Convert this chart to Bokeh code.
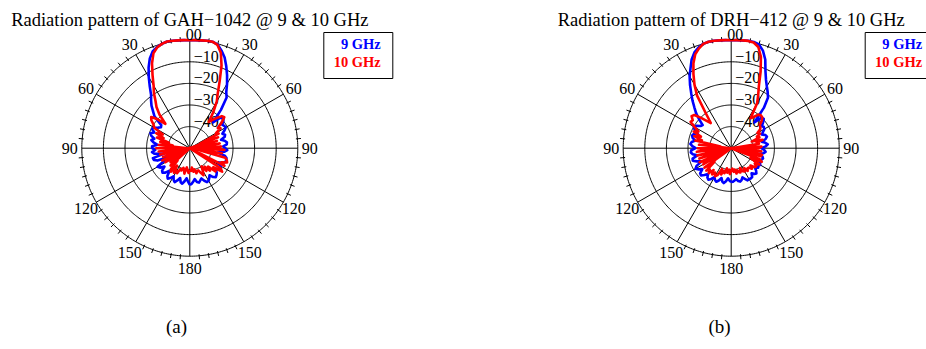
import numpy as np
from bokeh.plotting import figure
from bokeh.layouts import row
from bokeh.models import Range1d, Label
from bokeh.embed import file_html
from bokeh.resources import INLINE

# Measured radiation patterns (dB, normalised) every 3 degrees, 0 = boresight
angles = list(range(-180, 181, 3))

gah_9ghz = [
    -33, -34.5, -36, -34.5, -33.2, -33.7, -35.5, -34, -32.8, -33.5, -35, -33.5, -32.6, -33.5, -36,
    -34, -33, -33.5, -35.5, -33.5, -32.8, -36, -42, -34, -32.5, -32.3, -38, -33.5, -32.4, -34,
    -32.6, -32.5, -35, -33, -31.8, -33, -31.2, -30.5, -32, -30.4, -31, -32.5, -33.5,
    -33, -28, -26, -23.5, -21.5, -19.5, -16, -12, -8, -4.5, -2, -0.8, 0, 0.5, 0.4, 0.2, 0.1,
    0,
    0.1, 0.2, 0.4, 0.4, -0.3, -2.5, -5, -8.5, -12, -15.5, -19, -21, -27, -34,
    -30, -29, -30, -31.5, -31, -30.8, -32, -33.5, -32.5, -33, -35, -33.5, -32.6, -32.8, -34.5,
    -33.5, -32.6, -34, -37, -33.5, -32.4, -32.3, -32.3, -33.5, -35.5, -33.5, -32.8, -33.5, -35,
    -33.2, -32.5, -32, -32.8, -34.5, -33.5, -32.6, -32.4, -33.5, -35, -34.3, -33.5, -34, -35.5,
    -34.5, -33.5, -33,
]

gah_10ghz = [
    -40, -38.5, -40, -41, -38, -39.5, -40.5, -39, -39.5, -37, -38, -36.5, -40, -36, -37, -42, -38,
    -50, -39, -55, -37, -50, -36, -55, -37, -52, -36, -50, -35.5, -55, -34.5, -48, -35.5, -42, -36,
    -40, -34, -37, -33, -36, -31, -30, -28, -27, -30, -34, -29, -25.5, -23, -19.5, -16.5, -12, -7,
    -3, -1, 0, 0.5, 0.4, 0.2, 0.1,
    0,
    0.1, 0.2, 0.4, 0.4, -0.5, -3.5, -9, -16, -21.5, -25, -30, -35, -33, -31, -29, -28.5, -31, -34,
    -33, -36, -35, -45, -36, -50, -37, -55, -36, -48, -35.5, -38, -34, -50, -35, -45, -33, -32,
    -31.5, -34, -32, -50, -33, -31.5, -36, -34, -38, -36, -39, -37, -40, -38, -36, -37.5, -39, -39,
    -38, -40, -39, -41, -39.5, -40,
]

drh_9ghz = [
    -34.3, -35, -36, -34.5, -33.5, -34, -35.5, -34, -33, -33.5, -34.5, -33, -32, -32.5, -34, -32.5,
    -31.2, -31.5, -33.5, -32, -30.9, -32, -35, -33, -31.3, -31.5, -34, -32, -31.2, -31.5, -33.5,
    -32, -31, -31.5, -33, -31.5, -31, -31.5, -33, -31, -30, -31, -32.5,
    -33, -30, -27, -24.5, -21.5, -18.5, -15, -11.5, -8.5, -5, -2.5, -1, 0, 0.4, 0.4, 0.2, 0.1,
    0,
    0.1, 0.2, 0.4, 0.3, -0.3, -2.5, -6, -11, -14.5, -17, -19, -21, -26, -34,
    -30, -29.7, -31, -32.5, -32, -32.3, -33.5, -34.5, -33, -32.6, -33.5, -35.5, -34, -33, -34, -36,
    -34.7, -34, -35, -37, -35, -34.5, -35, -36.5, -35, -34.5, -35, -34.6, -36, -34.5, -33.5, -34,
    -35, -33.5, -33.3, -33.5, -33.3, -34.5, -35.5, -34.5, -34, -34.5, -35.5, -35, -34.5, -34.3,
]

drh_10ghz = [
    -39.5, -38, -40, -38.5, -40.5, -38, -39, -37, -39.5, -36, -35, -36.5, -35, -37, -34.5, -36,
    -34.5, -40, -34.7, -50, -35, -38, -34, -55, -34.5, -45, -34, -52, -34, -40, -34.5, -55, -35, -45,
    -33, -36, -32, -35, -31, -33, -30.5, -27.6, -28, -26.4, -27, -30, -33, -35, -30, -21, -16,
    -11.5, -7, -3.5, -1.5, 0, 0.4, 0.4, 0.2, 0.1,
    0,
    0.1, 0.2, 0.3, 0, -1.5, -5.5, -12, -18.5, -22.5, -26, -33.5, -32, -30, -29.5, -29.7, -31, -33,
    -33.3, -34, -36, -35, -37, -36, -40, -35, -38, -37, -50, -36, -37.2, -55, -36, -45, -35.5,
    -35.8, -50, -36, -34.5, -40, -35, -37, -35.7, -36, -38, -36.5, -37.9, -38, -37, -39, -37.5, -38,
    -40, -38, -38.3, -39.5, -38, -40, -39, -40.5, -39.5,
]

ring_db = [-10, -20, -30, -40]
ring_text = ["\u221210", "\u221220", "\u221230", "\u221240"]
spoke_deg = [0, 30, 60, 90, 120, 150, 180, -30, -60, -90, -120, -150]
label_deg = [30, 60, 90, 120, 150, 180, -30, -60, -90, -120, -150]
label_text = ["30", "60", "90", "120", "150", "180", "30", "60", "90", "120", "150"]
series_names = ["9 GHz", "10 GHz"]
series_colors = ["#0000ff", "#ff0000"]

FLOOR = -50.0          # dB at the centre of the chart
PX = 108.0 / 50.0      # screen pixels per dB of radius
OX, OY = 1000.0, 1000.0  # data position of the polar origin
FONT = "Liberation Serif"


def polar_xy(deg, db):
    th = np.radians(np.asarray(deg, dtype=float))
    rho = np.clip(np.asarray(db, dtype=float) - FLOOR, 0, None)
    return OX + rho * np.sin(th), OY + rho * np.cos(th)


def label(p, x, y, text, size, align="center", baseline="middle", color="black",
          style="normal", level="annotation"):
    p.add_layout(Label(x=OX + x, y=OY + y, text=text, text_font=FONT, text_font_size=size,
                       text_align=align, text_baseline=baseline, text_color=color,
                       text_font_style=style, level=level))


def panel(title, caption, pat9, pat10, cx, cy, w, h, cap_dx):
    x0 = OX - cx / PX
    y1 = OY + cy / PX
    p = figure(width=w, height=h, output_backend="svg", toolbar_location=None,
               x_range=Range1d(x0, x0 + w / PX), y_range=Range1d(y1 - h / PX, y1),
               min_border=0, outline_line_color=None, background_fill_color="white",
               border_fill_color="white")
    p.axis.visible = False
    p.grid.visible = False

    rmax = -FLOOR
    # dB rings (outer ring = 0 dB)
    ring_th = np.linspace(0, 2 * np.pi, 361)
    for db in [0] + ring_db:
        r = db - FLOOR
        p.line(OX + r * np.sin(ring_th), OY + r * np.cos(ring_th), line_color="black",
               line_width=1)
    # angle spokes
    sx, sy = polar_xy(spoke_deg, [0] * len(spoke_deg))
    p.segment(x0=[OX] * len(sx), y0=[OY] * len(sy), x1=sx, y1=sy, line_color="black",
              line_width=1)
    # minor ticks on the outer ring
    tdeg = [d for d in range(0, 360, 5) if d % 30]
    th = np.radians(tdeg)
    r_in, r_out = rmax - 1.5 / PX, rmax + 3.5 / PX
    p.segment(x0=OX + r_in * np.sin(th), y0=OY + r_in * np.cos(th), x1=OX + r_out * np.sin(th),
              y1=OY + r_out * np.cos(th), line_color="black", line_width=1)

    # ring labels sit just above each ring, right of the vertical spoke (under the curves)
    for db, t in zip(ring_db, ring_text):
        label(p, 4 / PX, db - FLOOR, t, "16px", align="left", baseline="bottom",
              level="underlay")
    # boresight angle "0" and the 0 dB ring label run together at the top
    label(p, -4 / PX, rmax, "00", "16px", align="left", baseline="bottom")
    # angle labels around the outside
    lx, ly = polar_xy(label_deg, [120 / PX + FLOOR] * len(label_deg))
    for x, y, t in zip(lx, ly, label_text):
        label(p, float(x) - OX, float(y) - OY, t, "16px")

    for pat, col in zip([pat9, pat10], series_colors):
        x, y = polar_xy(angles, pat)
        p.line(x, y, line_color=col, line_width=2.6, line_join="round")

    # title and caption
    label(p, 0, (cy - 19.5) / PX, title, "18.5px", baseline="alphabetic")
    label(p, cap_dx / PX, -(326 - cy) / PX, caption, "19px", baseline="alphabetic")

    # legend box
    bl, br, bt, bb = 134 / PX, 203 / PX, (cy - 32) / PX, (cy - 78) / PX
    p.quad(left=[OX + bl], right=[OX + br], top=[OY + bt], bottom=[OY + bb], fill_color="white",
           line_color="black", line_width=1)
    for name, col, yy in zip(series_names, series_colors, [cy - 43.5, cy - 61]):
        label(p, 191 / PX, yy / PX, name, "14.5px", align="right", color=col, style="bold")
    return p


pa = panel("Radiation pattern of GAH\u22121042 @ 9 & 10 GHz", "(a)", gah_9ghz, gah_10ghz,
           189.3, 147.7, 463, 349, -13.3)
pb = panel("Radiation pattern of DRH\u2212412 @ 9 & 10 GHz", "(b)", drh_9ghz, drh_10ghz,
           267.7, 147.7, 463, 349, -11.7)

layout = row(pa, pb, spacing=0)
open("out.html", "w").write(file_html(layout, INLINE))
